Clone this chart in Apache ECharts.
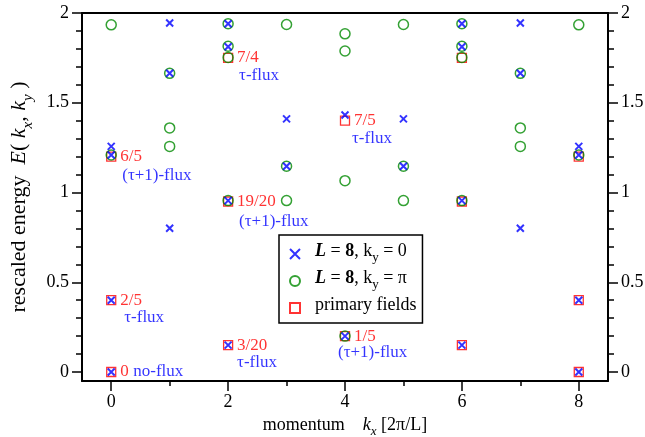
<!DOCTYPE html>
<html>
<head>
<meta charset="utf-8">
<script src="https://cdn.jsdelivr.net/npm/echarts@6/dist/echarts.min.js"></script>
<style>html,body{margin:0;padding:0;background:#fff;}#c{width:645px;height:437px;}</style>
</head>
<body>
<div id="c"></div>
<script>
// ---- data ----
const kxTicks = [0, 2, 4, 6, 8];
const kxMinorTicks = [1, 3, 5, 7];
const energyTicks = [0, 0.5, 1, 1.5, 2];
const energyMinorTicks = [0.1, 0.2, 0.3, 0.4, 0.6, 0.7, 0.8, 0.9, 1.1, 1.2, 1.3, 1.4, 1.6, 1.7, 1.8, 1.9];

// L = 8, ky = 0
const ky0Kx = [0, 0, 0, 0, 1, 1, 1, 2, 2, 2, 2, 3, 3, 4, 4, 5, 5, 6, 6, 6, 6, 7, 7, 7, 8, 8, 8, 8];
const ky0E  = [0, 0.4, 1.209, 1.257, 0.801, 1.664, 1.944, 0.15, 0.955, 1.812, 1.94, 1.146, 1.41, 0.2, 1.432, 1.146, 1.41, 0.15, 0.955, 1.812, 1.94, 0.801, 1.664, 1.944, 0, 0.4, 1.209, 1.257];

// L = 8, ky = pi
const kyPiKx = [0, 0, 1, 1, 1, 2, 2, 2, 2, 3, 3, 3, 4, 4, 4, 4, 5, 5, 5, 6, 6, 6, 6, 7, 7, 7, 8, 8];
const kyPiE  = [1.209, 1.934, 1.257, 1.36, 1.664, 0.955, 1.752, 1.815, 1.94, 0.955, 1.146, 1.936, 0.2, 1.066, 1.788, 1.884, 0.955, 1.146, 1.936, 0.955, 1.752, 1.815, 1.94, 1.257, 1.36, 1.664, 1.209, 1.934];

// primary fields
const primaryKx = [0, 0, 0, 2, 2, 2, 4, 4, 6, 6, 6, 8, 8, 8];
const primaryE  = [0, 0.4, 1.2, 0.15, 0.95, 1.75, 0.2, 1.4, 0.15, 0.95, 1.75, 0, 0.4, 1.2];

// annotations
const annKx = [0, 0, 0, 2, 2, 2, 4, 4];
const annE  = [0, 0.4, 1.2, 1.75, 0.95, 0.15, 1.4, 0.2];
const annFraction = ['0', '2/5', '6/5', '7/4', '19/20', '3/20', '7/5', '1/5'];
const annFlux = ['no-flux', 'τ-flux', '(τ+1)-flux', 'τ-flux', '(τ+1)-flux', 'τ-flux', 'τ-flux', '(τ+1)-flux'];

// ---- styles ----
const FONT = 'Liberation Serif';
const RED = '#ff0000', BLUE = '#0000ff', GREEN = '#008a00';
const fluxOffsets = [[22, 0], [13, 17], [11, 19], [11, 18], [11, 20], [9, 17], [7, 18], [-7, 16]];

const pairs = (xs, ys) => xs.map((x, i) => [x, ys[i]]);

const richX = {
  n: { fontFamily: FONT, fontSize: 18, color: '#000', lineHeight: 20, padding: [0, 0, 4, 0], verticalAlign: 'bottom' },
  i: { fontFamily: FONT, fontSize: 18, fontStyle: 'italic', color: '#000', lineHeight: 20, padding: [0, 0, 4, 0], verticalAlign: 'bottom' },
  s: { fontFamily: FONT, fontSize: 13, fontStyle: 'italic', color: '#000', lineHeight: 14, verticalAlign: 'bottom' }
};
const richY = {
  n: { fontFamily: FONT, fontSize: 22, color: '#000', lineHeight: 24, padding: [0, 0, 5, 0], verticalAlign: 'bottom' },
  i: { fontFamily: FONT, fontSize: 22, fontStyle: 'italic', color: '#000', lineHeight: 24, padding: [0, 0, 5, 0], verticalAlign: 'bottom' },
  s: { fontFamily: FONT, fontSize: 15, fontStyle: 'italic', color: '#000', lineHeight: 16, verticalAlign: 'bottom' }
};
const legendRich = {
  n: { fontFamily: FONT, fontSize: 18, color: '#000', lineHeight: 20, padding: [0, 0, 4, 0], verticalAlign: 'bottom' },
  bi: { fontFamily: FONT, fontSize: 18, fontStyle: 'italic', fontWeight: 'bold', color: '#000', lineHeight: 20, padding: [0, 0, 4, 0], verticalAlign: 'bottom' },
  b: { fontFamily: FONT, fontSize: 18, fontWeight: 'bold', color: '#000', lineHeight: 20, padding: [0, 0, 4, 0], verticalAlign: 'bottom' },
  s: { fontFamily: FONT, fontSize: 13, color: '#000', lineHeight: 13, verticalAlign: 'bottom' }
};

const legendNames = ['L = 8, ky = 0', 'L = 8, ky = π', 'primary fields'];
const legendFormat = {
  'L = 8, ky = 0': '{bi|L}{n| = }{b|8}{n|, k}{s|y}{n| = 0}',
  'L = 8, ky = π': '{bi|L}{n| = }{b|8}{n|, k}{s|y}{n| = π}',
  'primary fields': '{n|primary fields}'
};

const X_PATH = 'path://M0,0L10,10M10,0L0,10';

const axisLineStyle = { color: '#000', width: 2 };
const labelStyle = { fontFamily: FONT, fontSize: 18, color: '#000' };

function yAxisPair(pos) {
  return [
    {
      type: 'value', min: -0.05, max: 2, position: pos,
      axisLine: { show: true, onZero: false, lineStyle: axisLineStyle },
      axisTick: { show: true, customValues: energyTicks, length: 10, inside: false, lineStyle: { color: '#000', width: 1.5 } },
      axisLabel: Object.assign({ customValues: energyTicks, margin: 13, formatter: v => String(v) }, labelStyle),
      splitLine: { show: false },
      name: pos === 'left' ? '{n|rescaled energy  }{i|E}{n|( }{i|k}{s|x}{n|, }{i|k}{s|y}{n| )}' : '',
      nameLocation: 'middle', nameGap: 42, nameRotate: 90,
      nameTextStyle: { rich: richY }
    },
    {
      type: 'value', min: -0.05, max: 2, position: pos,
      axisLine: { show: false, onZero: false },
      axisTick: { show: true, customValues: energyMinorTicks, length: 6, lineStyle: { color: '#000', width: 1.5 } },
      axisLabel: { show: false, customValues: energyMinorTicks },
      splitLine: { show: false }
    }
  ];
}

const option = {
  animation: false,
  backgroundColor: '#fff',
  grid: { left: 82, right: 37, top: 13, bottom: 56, containLabel: false, outerBoundsMode: 'none' },
  xAxis: [
    {
      type: 'value', min: -0.5, max: 8.5, position: 'bottom',
      axisLine: { show: true, onZero: false, lineStyle: axisLineStyle },
      axisTick: { show: true, customValues: kxTicks, length: 10, lineStyle: { color: '#000', width: 1.5 } },
      axisLabel: Object.assign({ customValues: kxTicks, margin: 12 }, labelStyle),
      splitLine: { show: false },
      name: '{n|momentum    }{i|k}{s|x}{n| [2π/L]}',
      nameLocation: 'middle', nameGap: 32,
      nameTextStyle: { rich: richX }
    },
    {
      type: 'value', min: -0.5, max: 8.5, position: 'bottom',
      axisLine: { show: false, onZero: false },
      axisTick: { show: true, customValues: kxMinorTicks, length: 5, lineStyle: { color: '#000', width: 1.5 } },
      axisLabel: { show: false, customValues: kxMinorTicks },
      splitLine: { show: false }
    },
    {
      type: 'value', min: -0.5, max: 8.5, position: 'top',
      axisLine: { show: true, onZero: false, lineStyle: axisLineStyle },
      axisTick: { show: false }, axisLabel: { show: false }, splitLine: { show: false }
    }
  ],
  yAxis: [...yAxisPair('left'), ...yAxisPair('right')],
  legend: {
    left: 279, top: 235, orient: 'vertical',
    data: legendNames,
    backgroundColor: '#fff', borderColor: '#000', borderWidth: 1.5,
    padding: [7, 6, 5, 10], itemGap: 5,
    itemWidth: 10, itemHeight: 10,
    formatter: name => legendFormat[name],
    textStyle: { rich: legendRich, padding: [0, 0, 0, 10] }
  },
  series: [
    {
      name: 'primary fields', type: 'scatter', z: 2,
      data: pairs(primaryKx, primaryE),
      symbol: 'rect', symbolSize: 9,
      itemStyle: { color: 'rgba(0,0,0,0)', borderColor: RED, borderWidth: 1.3 }
    },
    {
      name: 'L = 8, ky = π', type: 'scatter', z: 3,
      data: pairs(kyPiKx, kyPiE),
      symbol: 'circle', symbolSize: 10,
      itemStyle: { color: 'rgba(0,0,0,0)', borderColor: GREEN, borderWidth: 1.5 }
    },
    {
      name: 'L = 8, ky = 0', type: 'scatter', z: 4,
      data: pairs(ky0Kx, ky0E),
      symbol: X_PATH, symbolSize: 7,
      itemStyle: { color: BLUE, borderColor: BLUE, borderWidth: 2 }
    },
    {
      name: 'fractions', type: 'scatter', z: 5, silent: true,
      data: pairs(annKx, annE).map((p, i) => ({ value: p, label: { formatter: annFraction[i] } })),
      symbol: 'circle', symbolSize: 0,
      label: { show: true, position: 'right', distance: 9, fontFamily: FONT, fontSize: 17, color: RED }
    },
    {
      name: 'fluxes', type: 'scatter', z: 5, silent: true,
      data: pairs(annKx, annE).map((p, i) => ({ value: p, label: { formatter: annFlux[i], offset: fluxOffsets[i] } })),
      symbol: 'circle', symbolSize: 0,
      label: { show: true, position: 'right', distance: 0, fontFamily: FONT, fontSize: 17, color: BLUE }
    }
  ]
};

const chart = echarts.init(document.getElementById('c'), null, { renderer: 'canvas' });
chart.setOption(option);
</script>
</body>
</html>
